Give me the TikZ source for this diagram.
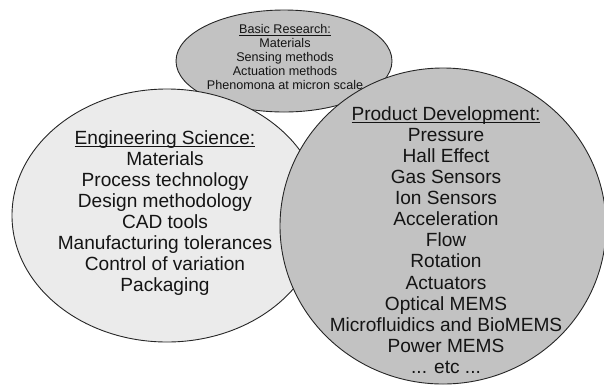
\documentclass[tikz,border=0pt]{standalone}
\usepackage{fontspec}
\setmainfont{Liberation Sans}
\definecolor{midgray}{HTML}{C2C2C2}
\definecolor{lightgray}{HTML}{EBEBEB}
\definecolor{edgegray}{HTML}{262626}
\definecolor{txt}{HTML}{141414}
\newcommand{\myul}[1]{\setbox0\hbox{#1}\rlap{\rule[-0.14em]{\wd0}{0.065em}}\box0}
\tikzset{
  blob/.style={draw=edgegray, line width=0.9pt},
  bigtext/.style={align=center, text=txt, font=\fontsize{19.1}{21.1}\selectfont, inner sep=0pt},
  smalltext/.style={align=center, text=txt, font=\fontsize{12.6}{13.8}\selectfont, inner sep=0pt}
}
\begin{document}
\begin{tikzpicture}[x=1pt,y=-1pt]
\useasboundingbox (0,0) rectangle (604,384);
\clip (0,0) rectangle (604,384);
\draw[blob, fill=midgray] (284,61) ellipse [x radius=108, y radius=51] coordinate (basic);
\node[smalltext] (basictext) at (285,57) {\myul{Basic Research:}\\Materials\\Sensing methods\\Actuation methods\\Phenomona at micron scale};
\draw[blob, fill=lightgray] (167,215.5) ellipse [x radius=155, y radius=126.5] coordinate (eng);
\node[bigtext] (engtext) at (165,213) {\myul{Engineering Science:}\\Materials\\Process technology\\Design methodology\\CAD tools\\Manufacturing tolerances\\Control of variation\\Packaging};
\draw[blob, fill=midgray] (443,226) ellipse [x radius=163, y radius=158] coordinate (prod);
\node[bigtext] (prodtext) at (446,240) {\myul{Product Development:}\\Pressure\\Hall Effect\\Gas Sensors\\Ion Sensors\\Acceleration\\Flow\\Rotation\\Actuators\\Optical MEMS\\Microfluidics and BioMEMS\\Power MEMS\\... etc ...};
\end{tikzpicture}
\end{document}
